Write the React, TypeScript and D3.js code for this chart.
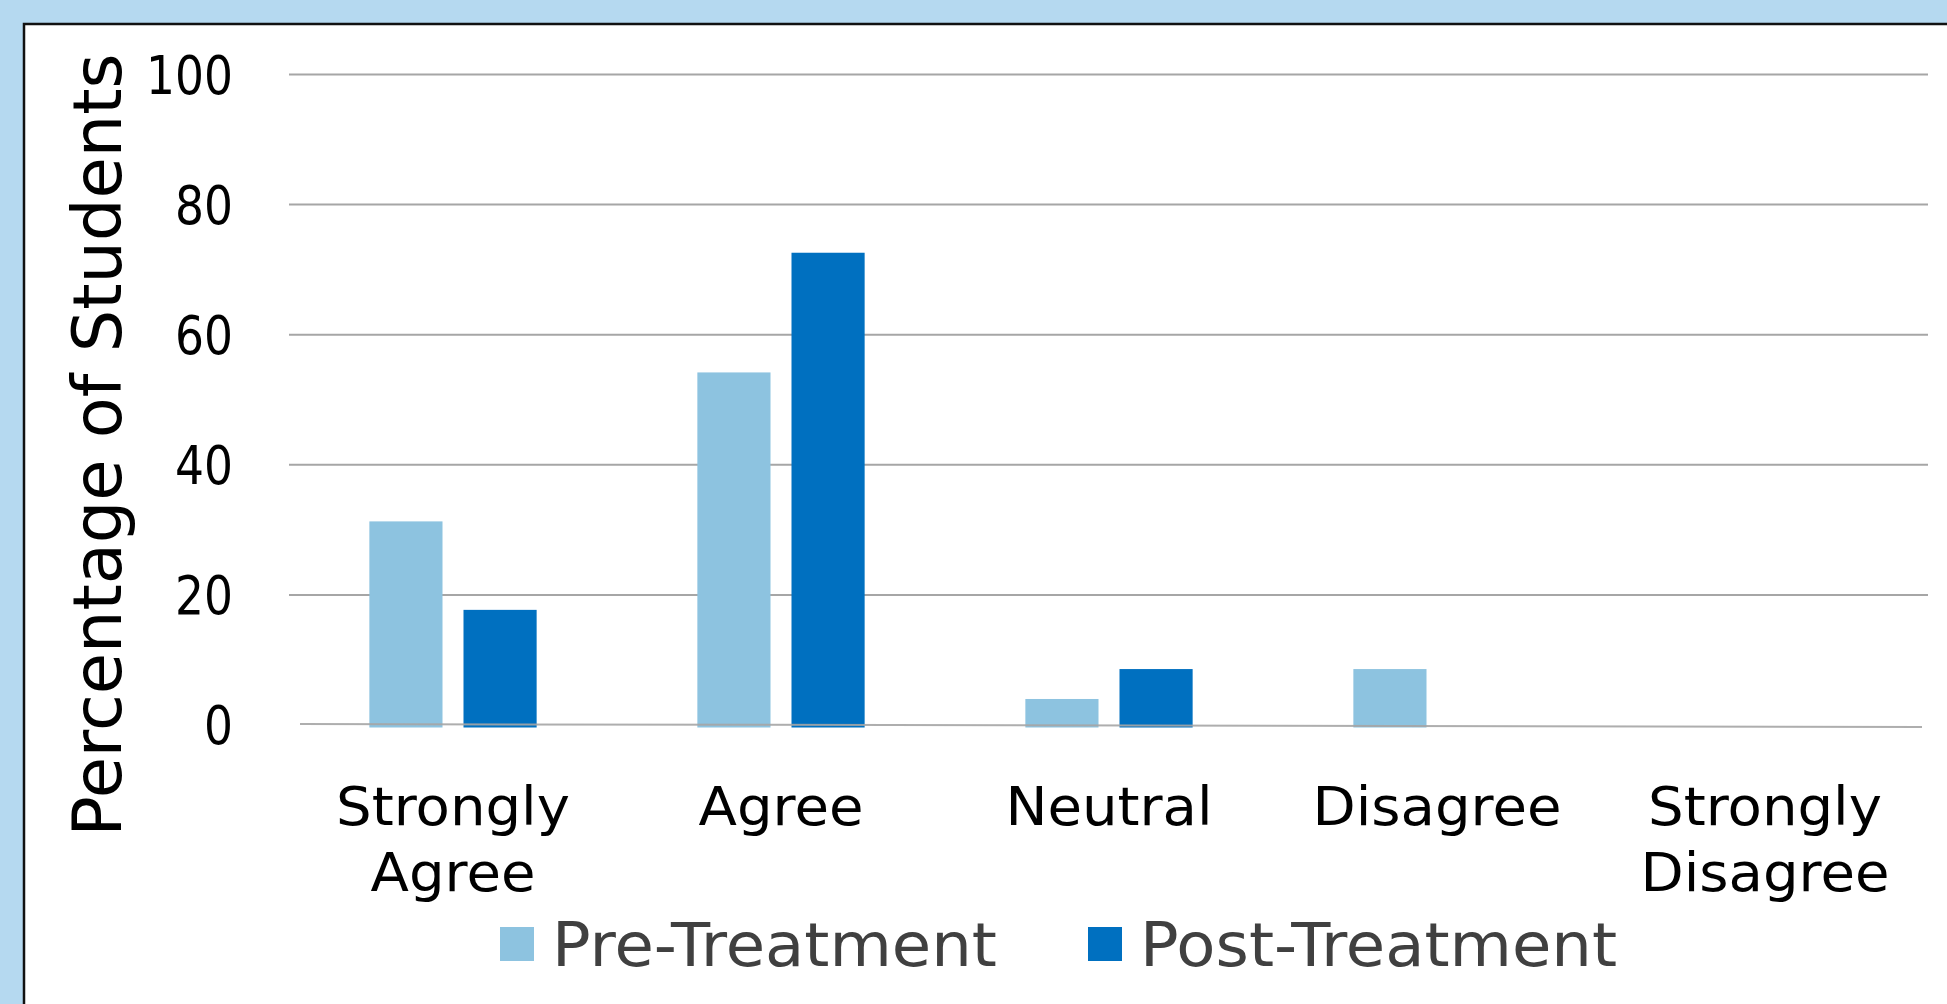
import { useEffect, useRef } from 'react'
import * as d3 from 'd3'

// data
const categories = ['Strongly Agree', 'Agree', 'Neutral', 'Disagree', 'Strongly Disagree']
const categoryLines = [['Strongly', 'Agree'], ['Agree'], ['Neutral'], ['Disagree'], ['Strongly', 'Disagree']]
const seriesNames = ['Pre-Treatment', 'Post-Treatment']
const preTreatment = [31.3, 54.2, 4.0, 8.6, 0]
const postTreatment = [17.7, 72.6, 8.6, 0, 0]
const yTicks = [0, 20, 40, 60, 80, 100]
const yLabel = 'Percentage of Students'

const COLORS = ['#8DC3E0', '#0070C0']
const FONT = '"DejaVu Sans", Verdana, sans-serif'

export default function App() {
  const svgRef = useRef<SVGSVGElement>(null)
  const width = 1947
  const height = 1004

  useEffect(() => {
    if (!svgRef.current) return
    const svg = d3.select(svgRef.current)
    svg.selectAll('*').remove()

    // background + white panel
    svg.append('rect').attr('width', width).attr('height', height).attr('fill', '#B5D9F0')
    svg.append('rect')
      .attr('x', 24).attr('y', 24)
      .attr('width', width).attr('height', height)
      .attr('fill', '#fff')
      .attr('stroke', '#111')
      .attr('stroke-width', 2.5)

    const x0 = d3.scaleBand<string>()
      .domain(categories)
      .range([289, 1929])
      .paddingInner(0.49)
      .paddingOuter(0.245)

    const x1 = d3.scaleBand<string>()
      .domain(seriesNames)
      .range([0, x0.bandwidth()])
      .paddingInner(0.223)

    const y = d3.scaleLinear().domain([0, 100]).range([725, 74.5])

    // gridlines
    svg.append('g')
      .selectAll('line')
      .data(yTicks.filter(t => t > 0))
      .join('line')
      .attr('x1', 289).attr('x2', 1928)
      .attr('y1', d => y(d)).attr('y2', d => y(d))
      .attr('stroke', '#A6A6A6')
      .attr('stroke-width', 2)

    // tick labels (slightly narrow glyphs like the original)
    svg.append('g')
      .selectAll('text')
      .data(yTicks)
      .join('text')
      .attr('transform', d => `translate(233, ${y(d)}) scale(0.86, 1)`)
      .attr('dy', '0.36em')
      .attr('text-anchor', 'end')
      .attr('font-family', FONT)
      .attr('font-size', 53)
      .attr('fill', '#000')
      .text(d => d)

    // bars
    const series = [preTreatment, postTreatment]
    seriesNames.forEach((name, si) => {
      svg.append('g')
        .selectAll('rect')
        .data(series[si].map((v, i) => ({ cat: categories[i], v })))
        .join('rect')
        .attr('x', d => (x0(d.cat) || 0) + (x1(name) || 0))
        .attr('y', d => y(d.v))
        .attr('width', x1.bandwidth())
        .attr('height', d => d.v > 0 ? y(0) - y(d.v) + 2.5 : 0)
        .attr('fill', COLORS[si])
    })

    // baseline (slightly tilted like the original)
    svg.append('line')
      .attr('x1', 300).attr('x2', 1922)
      .attr('y1', y(0) - 1).attr('y2', y(0) + 2)
      .attr('stroke', '#A6A6A6')
      .attr('stroke-width', 2)
      .attr('opacity', 0.9)

    // category labels
    const catG = svg.append('g')
    categories.forEach((c, i) => {
      const cx = (x0(c) || 0) + x0.bandwidth() / 2
      categoryLines[i].forEach((line, li) => {
        catG.append('text')
          .attr('transform', `translate(${cx}, ${825 + li * 66}) scale(1.04, 1)`)
          .attr('text-anchor', 'middle')
          .attr('font-family', FONT)
          .attr('font-size', 54)
          .attr('fill', '#000')
          .text(line)
      })
    })

    // y axis title
    svg.append('text')
      .attr('transform', 'translate(121, 445) rotate(-90)')
      .attr('text-anchor', 'middle')
      .attr('font-family', FONT)
      .attr('font-size', 67)
      .attr('fill', '#000')
      .text(yLabel)

    // legend
    const legendX = [500, 1088]
    seriesNames.forEach((name, si) => {
      svg.append('rect')
        .attr('x', legendX[si]).attr('y', 927)
        .attr('width', 34).attr('height', 34)
        .attr('fill', COLORS[si])
      svg.append('text')
        .attr('transform', `translate(${legendX[si] + 52}, 966) scale(1.05, 1)`)
        .attr('font-family', FONT)
        .attr('font-size', 61)
        .attr('fill', '#404040')
        .text(name)
    })
  }, [])

  return (
    <svg
      ref={svgRef}
      width={width}
      height={height}
      style={{ position: 'absolute', left: 0, top: 0, display: 'block' }}
    />
  )
}
